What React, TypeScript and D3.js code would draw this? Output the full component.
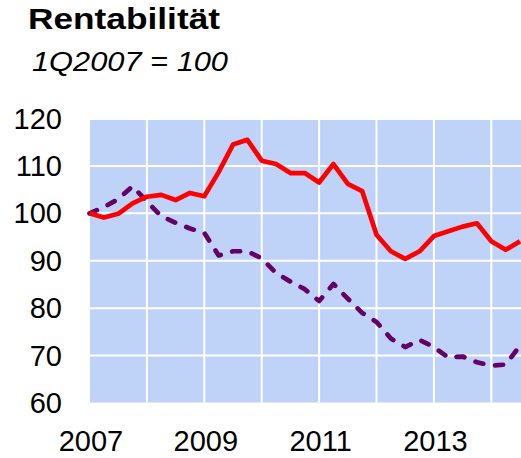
import React from "react";
import * as d3 from "d3";

// quarterly index, 1Q2007 = 100
const quarters = [
  "2007Q1", "2007Q2", "2007Q3", "2007Q4",
  "2008Q1", "2008Q2", "2008Q3", "2008Q4",
  "2009Q1", "2009Q2", "2009Q3", "2009Q4",
  "2010Q1", "2010Q2", "2010Q3", "2010Q4",
  "2011Q1", "2011Q2", "2011Q3", "2011Q4",
  "2012Q1", "2012Q2", "2012Q3", "2012Q4",
  "2013Q1", "2013Q2", "2013Q3", "2013Q4",
  "2014Q1", "2014Q2", "2014Q3",
];

const solidSeries = [
  100, 99.1, 99.9, 102.1, 103.5, 103.9, 102.8, 104.3,
  103.6, 108.7, 114.5, 115.5, 111.1, 110.4, 108.5, 108.5,
  106.5, 110.4, 106.2, 104.7, 95.5, 92.0, 90.4, 92.0,
  95.2, 96.2, 97.2, 97.9, 94.1, 92.3, 94.1,
];

const dashedSeries = [
  100, 101.3, 103.0, 105.7, 102.5, 99.4, 98.0, 96.8,
  95.9, 91.1, 92.0, 92.0, 90.5, 87.4, 85.6, 84.0,
  81.5, 85.1, 82.0, 79.0, 77.1, 73.6, 71.8, 73.3,
  71.8, 69.6, 69.8, 68.6, 67.9, 68.1, 72.1,
];

const yTicks = [60, 70, 80, 90, 100, 110, 120];
const xTickYears = [2007, 2009, 2011, 2013];
const gridYears = [2008, 2009, 2010, 2011, 2012, 2013, 2014];

const W = 521;
const H = 458;
const plot = { left: 90, top: 120, bottom: 402.5 };

export default function App() {
  const yearPos = (q: string) => +q.slice(0, 4) + (+q.slice(5) - 1) / 4;

  const x = d3.scaleLinear().domain([2007, 2014.5]).range([89.5, 520]);
  const y = d3.scaleLinear().domain([60, 120]).range([403, 118.5]);

  const line = d3
    .line<number>()
    .x((_, i) => x(yearPos(quarters[i])))
    .y((d) => y(d));

  return (
    <svg
      width={W}
      height={H}
      style={{ position: "absolute", left: 0, top: 0, fontFamily: "Liberation Sans, Arial, sans-serif" }}
    >
      <text x={28} y={29} fontSize={29} fontWeight="bold" fill="#000" textLength={192} lengthAdjust="spacingAndGlyphs">
        Rentabilität
      </text>
      <text x={32} y={71} fontSize={28} fontStyle="italic" fill="#000" textLength={196} lengthAdjust="spacingAndGlyphs">
        1Q2007 = 100
      </text>

      <rect x={plot.left} y={plot.top} width={W - plot.left} height={plot.bottom - plot.top} fill="#BFD2F8" />

      {yTicks.slice(1, -1).map((t) => (
        <line key={"h" + t} x1={plot.left} x2={W} y1={y(t)} y2={y(t)} stroke="#fff" strokeWidth={2} />
      ))}
      {gridYears.map((yr) => (
        <line key={"v" + yr} x1={x(yr)} x2={x(yr)} y1={plot.top} y2={plot.bottom} stroke="#fff" strokeWidth={2} />
      ))}

      <path
        d={line(dashedSeries) ?? ""}
        fill="none"
        stroke="#660066"
        strokeWidth={4.7}
        strokeDasharray="8 12"
        strokeLinecap="round"
        strokeLinejoin="round"
      />
      <path d={line(solidSeries) ?? ""} fill="none" stroke="#FF0000" strokeWidth={4.7} strokeLinejoin="round" />

      {yTicks.map((t) => (
        <text key={"yt" + t} x={62} y={y(t)} dy="0.35em" textAnchor="end" fontSize={29} fill="#000">
          {t}
        </text>
      ))}
      {xTickYears.map((yr) => (
        <text key={"xt" + yr} x={x(yr) + 1.5} y={450.5} textAnchor="middle" fontSize={29} fill="#000">
          {yr}
        </text>
      ))}
    </svg>
  );
}
